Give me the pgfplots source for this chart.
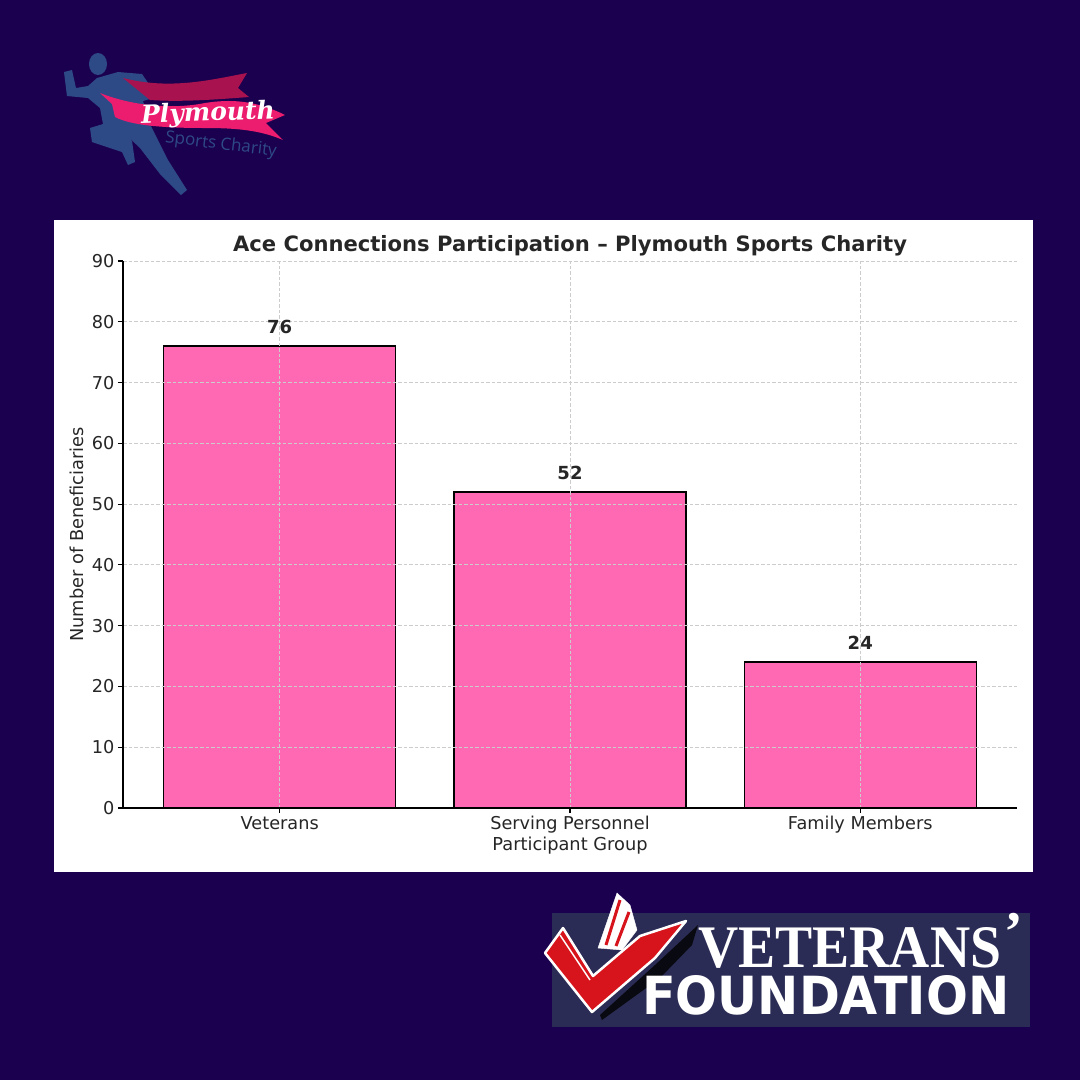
\documentclass[border=0pt]{standalone}
\usepackage{fontspec}
\setmainfont{DejaVu Sans}
\newfontfamily\serifvf{Liberation Serif}
\newfontfamily\scriptf{DejaVu Serif}
\newfontfamily\lightf{Open Sans}
\usepackage{graphicx}
\usepackage{pgfplots}
\pgfplotsset{compat=1.18}
\definecolor{bg}{HTML}{1B004F}
\definecolor{barpink}{HTML}{FF69B4}
\definecolor{vfbox}{HTML}{2B2C55}
\definecolor{runner}{HTML}{2E4A86}
\definecolor{ribbon}{HTML}{EC1C6E}
\definecolor{ribbondark}{HTML}{A8124E}
\definecolor{vfred}{HTML}{D7141C}
\definecolor{txt}{HTML}{262626}
\definecolor{gridc}{HTML}{CCCCCC}
\begin{document}
\begin{tikzpicture}
\fill[bg] (0,0) rectangle (1080pt,-1080pt);
\begin{scope}[x=1pt,y=-1pt]
% white chart panel
\fill[white] (54,220) rectangle (1033,872);
% --- Plymouth Sports Charity logo (approximation) ---
\fill[runner] (98,64) ellipse (9 and 11);
\fill[runner] (97,78) -- (88,86) -- (76,88) -- (72,70) -- (64,72) -- (67,96) -- (88,98) -- (100,108) -- (103,124)
  -- (90,128) -- (92,142) -- (122,152) -- (128,165) -- (135,162) -- (132,141) -- (122,131) -- (140,148)
  -- (160,174) -- (181,195) -- (187,190) -- (168,160) -- (150,124) -- (143,101) -- (150,99) -- (153,90)
  -- (142,74) -- (118,72) -- cycle;
\fill[ribbondark] (123,78) .. controls (170,90) and (210,80) .. (247,73) -- (238,88) -- (249,97)
  .. controls (210,100) and (180,102) .. (150,100) -- cycle;
\fill[ribbon] (100,93) .. controls (130,105) and (170,110) .. (205,103) .. controls (230,99) and (255,100) .. (285,115)
  -- (266,123) -- (283,140) .. controls (260,130) and (235,128) .. (205,128)
  .. controls (160,128) and (130,125) .. (115,117) -- (112,104) -- cycle;
\node[white, inner sep=0pt, rotate=2] at (208,114) {\scriptf\bfseries\itshape\fontsize{25}{25}\selectfont Plymouth};
\node[runner, inner sep=0pt, rotate=-7] at (221,145) {\lightf\fontsize{17}{17}\selectfont Sports Charity};
% --- Veterans' Foundation logo (approximation) ---
\fill[vfbox] (552,913) rectangle (1030,1027);
\fill[black!80!vfbox] (600,1015) -- (655,965) -- (698,925) -- (692,945) -- (660,978) -- (602,1020) -- cycle;
\filldraw[fill=white, draw=white] (598,948) -- (617,893) -- (630,905) -- (637,930) -- (622,950) -- cycle;
\draw[vfred, line width=3pt] (606,945) -- (620,900);
\draw[vfred, line width=3pt] (616,946) -- (629,912);
\filldraw[fill=vfred, draw=white, line width=2.5pt, line join=round] (545,953) -- (563,928) -- (593,976)
  -- (640,936) -- (686,921) -- (655,958) -- (592,1012) -- cycle;
\draw[white, line width=1.5pt] (560,935) -- (590,980);
\node[white, inner sep=0pt, anchor=west] at (698,948) {\resizebox{303pt}{40pt}{\serifvf\bfseries VETERANS}};
\node[white, inner sep=0pt, anchor=north] at (1014,913) {\serifvf\bfseries\fontsize{56}{56}\selectfont ’};
\node[white, inner sep=0pt, anchor=west] at (642,995.5) {\resizebox{367pt}{39pt}{\bfseries FOUNDATION}};
\end{scope}
\begin{axis}[
  at={(123pt,-808pt)}, anchor=south west,
  scale only axis, width=894pt, height=547pt,
  xmin=-0.54, xmax=2.54, ymin=0, ymax=90,
  xtick={0,1,2}, xticklabels={Veterans, Serving Personnel, Family Members},
  ytick={0,10,...,90},
  axis x line*=bottom, axis y line*=left,
  axis line style={black, line width=1.3pt, -},
  tick style={black, line width=1.1pt},
  tick align=outside, major tick length=5pt,
  grid=major, grid style={gridc, line width=0.9pt, dash pattern=on 3.5pt off 2pt},
  ticklabel style={font=\fontsize{17.7}{21}\selectfont, text=txt},
  /pgf/number format/assume math mode=true,
  xlabel={Participant Group}, ylabel={Number of Beneficiaries},
  label style={font=\fontsize{17.8}{21}\selectfont, text=txt},
  xlabel style={at={(axis description cs:0.5,-0.0695)}, anchor=center},
  ylabel style={at={(axis description cs:-0.0515,0.5)}, anchor=center},
  title={Ace Connections Participation – Plymouth Sports Charity},
  title style={font=\bfseries\fontsize{21.1}{25}\selectfont, text=txt, at={(axis description cs:0.5,1.016)}, anchor=center},
  axis on top,
  ybar, bar width=0.8,
  nodes near coords,
  nodes near coords style={font=\bfseries\fontsize{18}{20}\selectfont, text=txt, anchor=south, inner sep=0pt, yshift=12pt},
]
\addplot[fill=barpink, draw=black, line width=1.3pt] coordinates {(0,76) (1,52) (2,24)};
\end{axis}
\end{tikzpicture}
\end{document}
